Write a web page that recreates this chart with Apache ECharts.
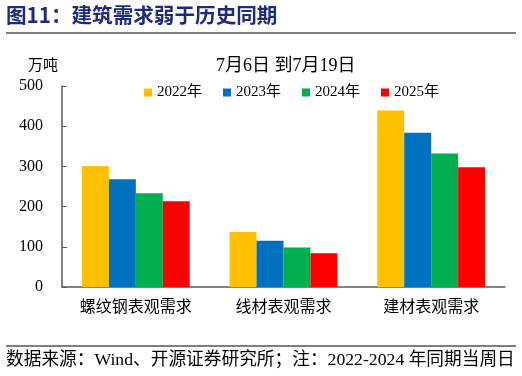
<!DOCTYPE html>
<html><head><meta charset="utf-8">
<script src="https://cdn.jsdelivr.net/npm/echarts@6/dist/echarts.min.js"></script>
<style>html,body{margin:0;padding:0;background:#fff}#c{width:522px;height:376px}</style>
</head><body><div id="c"></div>
<script>
var categories = ['螺纹钢表观需求', '线材表观需求', '建材表观需求'];
var seriesNames = ['2022年', '2023年', '2024年', '2025年'];
var v2022 = [301, 137, 439];
var v2023 = [268, 115, 384];
var v2024 = [233, 98, 332];
var v2025 = [213, 84, 298];
var colors = ['#FFC000', '#0070C0', '#00B050', '#FF0000'];
var serif = '"Liberation Serif","Times New Roman","Noto Sans CJK SC",serif';
var chart = echarts.init(document.getElementById('c'));
var vals = [v2022, v2023, v2024, v2025];
chart.setOption({
  animation: false,
  title: {
    text: '7月6日 到7月19日', left: 211, top: 52,
    textStyle: {fontFamily: serif, fontSize: 18, fontWeight: 'normal', color: '#000'}
  },
  legend: {
    data: seriesNames, left: 144, top: 85, padding: 0, itemWidth: 8, itemHeight: 8, itemGap: 21,
    icon: 'rect',
    textStyle: {fontFamily: serif, fontSize: 15, color: '#000'}
  },
  grid: {left: 62, right: 17, top: 86, bottom: 89, containLabel: false},
  xAxis: {
    type: 'category', data: categories,
    axisLine: {lineStyle: {color: '#595959', width: 1.5}},
    axisTick: {inside: true, length: 5, alignWithLabel: false, lineStyle: {color: '#595959'}},
    axisLabel: {fontFamily: serif, fontSize: 16, color: '#000', margin: 13}
  },
  yAxis: {
    type: 'value', min: 0, max: 500, interval: 100,
    name: '万吨', nameLocation: 'end', nameGap: 12,
    nameTextStyle: {fontFamily: serif, fontSize: 15, color: '#000', align: 'right', padding: [0, 4, 0, 0]},
    axisLine: {show: true, lineStyle: {color: '#595959', width: 1.5}},
    axisTick: {show: true, inside: true, length: 5, lineStyle: {color: '#595959'}},
    splitLine: {show: false},
    axisLabel: {fontFamily: serif, fontSize: 16, color: '#000', margin: 19}
  },
  series: seriesNames.map(function (n, i) {
    return {
      name: n, type: 'bar', data: vals[i], barGap: '0%', barCategoryGap: '27%',
      itemStyle: {color: colors[i]}
    };
  }),
  graphic: [
    {type: 'text', left: 6, top: 5, style: {text: '图11：建筑需求弱于历史同期', fontFamily: '"Noto Sans CJK SC",sans-serif', fontSize: 20.6, fontWeight: 'bold', fill: '#1F2A7C'}},
    {type: 'line', shape: {x1: 6, y1: 33, x2: 516, y2: 33}, style: {stroke: '#000', lineWidth: 1}},
    {type: 'line', shape: {x1: 6, y1: 346, x2: 516, y2: 346}, style: {stroke: '#000', lineWidth: 1}},
    {type: 'text', left: 6, top: 352, style: {text: '数据来源：Wind、开源证券研究所；注：2022-2024 年同期当周日', fontFamily: serif, fontSize: 17.7, fill: '#000'}}
  ]
});
</script></body></html>
